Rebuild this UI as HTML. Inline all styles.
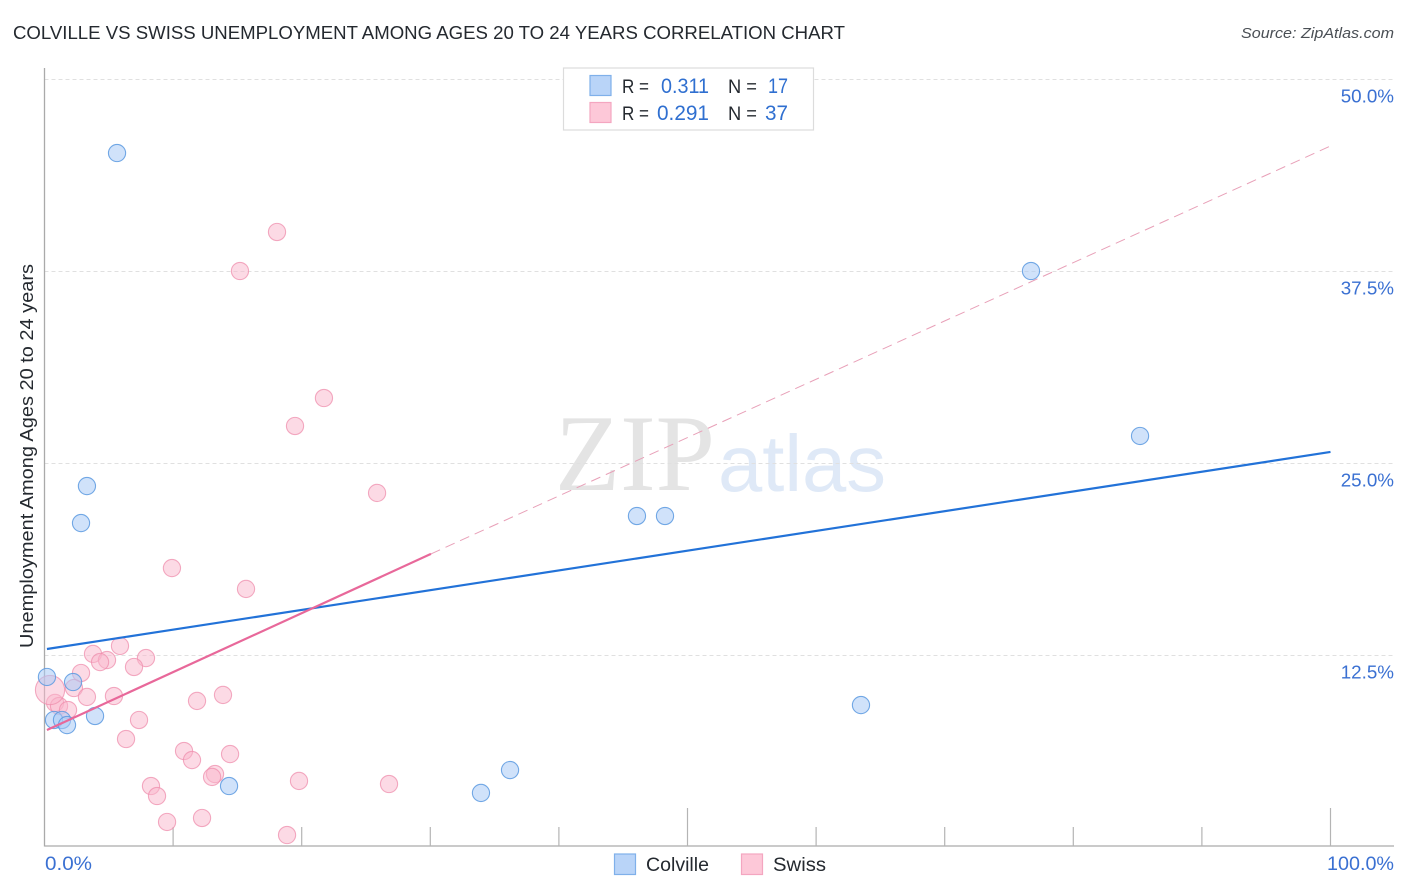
<!DOCTYPE html>
<html lang="en">
<head>
<meta charset="utf-8">
<title>Colville vs Swiss Unemployment Among Ages 20 to 24 Years Correlation Chart</title>
<style>
html,body{margin:0;padding:0;background:#fff;width:1406px;height:892px;overflow:hidden}
svg{display:block}
text{font-family:"Liberation Sans",sans-serif}
</style>
</head>
<body>
<svg id="chart" width="1406" height="892" viewBox="0 0 1406 892" xmlns="http://www.w3.org/2000/svg">
  <rect x="0" y="0" width="1406" height="892" fill="#fff"/>
  <text x="13" y="39" font-size="18.5" fill="#24292f" textLength="832" lengthAdjust="spacingAndGlyphs">COLVILLE VS SWISS UNEMPLOYMENT AMONG AGES 20 TO 24 YEARS CORRELATION CHART</text>
  <text x="1394" y="38" font-size="15" font-style="italic" fill="#4a4f55" text-anchor="end" textLength="153" lengthAdjust="spacingAndGlyphs">Source: ZipAtlas.com</text>
  <g>
    <text x="555" y="490" style="font-family:'Liberation Serif',serif" font-size="109" fill="#e4e4e4" textLength="160" lengthAdjust="spacingAndGlyphs">ZIP</text>
    <text x="718" y="491" font-size="80" fill="#dfe9f7" textLength="168" lengthAdjust="spacingAndGlyphs">atlas</text>
  </g>
  <g id="grid"></g>
  <g id="axes"></g>
  <g id="ticks"></g>
  <g id="ylabels"></g>
  <g id="xlabels"></g>
  <text transform="translate(33,456) rotate(-90)" font-size="18" fill="#24292f" text-anchor="middle" textLength="384" lengthAdjust="spacingAndGlyphs">Unemployment Among Ages 20 to 24 years</text>
  <g id="points-swiss"></g>
  <g id="points-colville"></g>
  <g id="trends"></g>
  <g>
    <rect x="563.5" y="68" width="250" height="62" fill="#fff" stroke="#dcdcdc" stroke-width="1.2"/>
    <rect x="590" y="75.5" width="21" height="20" fill="#b9d4f8" stroke="#7fb0ea" stroke-width="1.2"/>
    <rect x="590" y="102.5" width="21" height="20" fill="#fdc8d8" stroke="#f4a6c0" stroke-width="1.2"/>
    <text x="622" y="93" font-size="19" fill="#24292f" textLength="27" lengthAdjust="spacingAndGlyphs">R =</text>
    <text x="661" y="93" font-size="21" fill="#2f6fd0" textLength="48" lengthAdjust="spacingAndGlyphs">0.311</text>
    <text x="728" y="93" font-size="19" fill="#24292f" textLength="29" lengthAdjust="spacingAndGlyphs">N =</text>
    <text x="768" y="93" font-size="21" fill="#2f6fd0" textLength="20" lengthAdjust="spacingAndGlyphs">17</text>
    <text x="622" y="120" font-size="19" fill="#24292f" textLength="27" lengthAdjust="spacingAndGlyphs">R =</text>
    <text x="657" y="120" font-size="21" fill="#2f6fd0" textLength="52" lengthAdjust="spacingAndGlyphs">0.291</text>
    <text x="728" y="120" font-size="19" fill="#24292f" textLength="29" lengthAdjust="spacingAndGlyphs">N =</text>
    <text x="765" y="120" font-size="21" fill="#2f6fd0" textLength="23" lengthAdjust="spacingAndGlyphs">37</text>
  </g>
  <g>
    <rect x="614.5" y="854" width="21" height="20.5" fill="#b9d4f8" stroke="#7fb0ea" stroke-width="1.2"/>
    <text x="646" y="871" font-size="19" fill="#24292f" textLength="63" lengthAdjust="spacingAndGlyphs">Colville</text>
    <rect x="741.5" y="854" width="21" height="20.5" fill="#fdc8d8" stroke="#f4a6c0" stroke-width="1.2"/>
    <text x="773" y="871" font-size="19" fill="#24292f" textLength="53" lengthAdjust="spacingAndGlyphs">Swiss</text>
  </g>
</svg>
<script>
// Chart data (values in percent)
const yTickValues = [12.5, 25, 37.5, 50];
const yTickLabels = ["12.5%", "25.0%", "37.5%", "50.0%"];
const xTickValues = [10, 20, 30, 40, 50, 60, 70, 80, 90, 100];
const xTickMajor = [50, 100];
const xEndValues = [0, 100];
const xEndLabels = ["0.0%", "100.0%"];

const colvilleX = [5.64, 76.71, 85.19, 3.30, 2.84, 46.07, 48.25, 63.49, 0.19, 2.22, 3.93, 0.74, 1.36, 1.75, 36.2, 14.35, 33.94];
const colvilleY = [45.18, 37.5, 26.76, 23.50, 21.09, 21.55, 21.55, 9.24, 11.07, 10.74, 8.53, 8.27, 8.27, 7.94, 5.01, 3.97, 3.52];

const swissX = [18.08, 15.2, 21.73, 19.48, 25.86, 9.91, 15.67, 5.87, 3.77, 4.86, 4.32, 7.89, 6.96, 2.84, 2.29, 3.3, 5.4, 11.86, 13.88, 0.82, 1.13, 1.83, 7.35, 6.34, 10.85, 11.47, 14.43, 13.26, 13.03, 19.79, 26.79, 8.28, 8.75, 9.53, 12.25, 18.86, 0.43];
const swissY = [40.04, 37.5, 29.23, 27.41, 23.05, 18.16, 16.8, 13.09, 12.57, 12.17, 12.04, 12.3, 11.72, 11.33, 10.35, 9.77, 9.83, 9.51, 9.9, 9.38, 9.18, 8.92, 8.27, 7.03, 6.25, 5.66, 6.05, 4.75, 4.56, 4.3, 4.1, 3.97, 3.32, 1.63, 1.89, 0.78, 10.22];
const swissWeight = [1, 1, 1, 1, 1, 1, 1, 1, 1, 1, 1, 1, 1, 1, 1, 1, 1, 1, 1, 1, 1, 1, 1, 1, 1, 1, 1, 1, 1, 1, 1, 1, 1, 1, 1, 1, 1.7];

const colvilleTrendX = [0.19, 100];
const colvilleTrendY = [12.89, 25.72];
const swissTrendX = [0.19, 30.05];
const swissTrendY = [7.62, 19.08];
const swissDashX = [30.05, 100];
const swissDashY = [19.08, 45.64];

// Axis functions
function sx(v) { return 44.5 + v * 12.86; }
function sy(v) { return 847 - v * 15.36; }

const NS = "http://www.w3.org/2000/svg";
function make(tag, parent, props, txt) {
  const el = document.createElementNS(NS, tag);
  for (const k in props) el.setAttribute(k, props[k]);
  if (txt !== undefined) el.textContent = txt;
  parent.appendChild(el);
  return el;
}
const LEFT = 44.5, RIGHT = 1394, BOTTOM = 846, TOP = 68;

const gridG = document.getElementById("grid");
yTickValues.forEach(function (v) {
  const el = make("line", gridG, { x1: LEFT, x2: RIGHT, y1: sy(v) + 0.5, y2: sy(v) + 0.5, stroke: "#e0e0e0", "stroke-width": 1, "stroke-dasharray": "4 3" });
  
  
});

const axesG = document.getElementById("axes");
const yAxis = make("line", axesG, { x1: LEFT, x2: LEFT, y1: TOP, y2: BOTTOM + 0.5, stroke: "#aaa", "stroke-width": 1.3 });


const xAxis = make("line", axesG, { x1: LEFT, x2: RIGHT, y1: BOTTOM, y2: BOTTOM, stroke: "#aaa", "stroke-width": 1.3 });



const ticksG = document.getElementById("ticks");
xTickValues.forEach(function (v) {
  const top = xTickMajor.indexOf(v) >= 0 ? 808 : 827;
  const el = make("line", ticksG, { x1: sx(v), x2: sx(v), y1: top, y2: BOTTOM, stroke: "#b4b4b4", "stroke-width": 1.2 });
  
  
});

const yLabelG = document.getElementById("ylabels");
yTickValues.forEach(function (v, i) {
  const el = make("text", yLabelG, { x: 1394, y: sy(v) + 23.6, "font-size": 18.8, fill: "#3a70d2", "text-anchor": "end" }, yTickLabels[i]);
  
  
});

const xLabelG = document.getElementById("xlabels");
xEndValues.forEach(function (v, i) {
  const props = i === 0
    ? { x: sx(v) + 0.5, y: 870, "font-size": 19, fill: "#3a70d2", textLength: 47, lengthAdjust: "spacingAndGlyphs" }
    : { x: 1394, y: 870, "font-size": 19, fill: "#3a70d2", "text-anchor": "end", textLength: 67, lengthAdjust: "spacingAndGlyphs" };
  const el = make("text", xLabelG, props, xEndLabels[i]);
  
  
});

const swissG = document.getElementById("points-swiss");
swissX.forEach(function (v, i) {
  const el = make("circle", swissG, { cx: sx(v), cy: sy(swissY[i]), r: 8.6 * swissWeight[i], fill: "#f9b6cb", "fill-opacity": 0.5, stroke: "#ef8fae", "stroke-opacity": 0.75, "stroke-width": 1.1 });
  
  
});

const colvilleG = document.getElementById("points-colville");
colvilleX.forEach(function (v, i) {
  const el = make("circle", colvilleG, { cx: sx(v), cy: sy(colvilleY[i]), r: 8.6, fill: "#a9cbf5", "fill-opacity": 0.55, stroke: "#5c9ae0", "stroke-opacity": 0.85, "stroke-width": 1.1 });
  
  
});

const trendG = document.getElementById("trends");
const dashLine = make("line", trendG, { x1: sx(swissDashX[0]), y1: sy(swissDashY[0]), x2: sx(swissDashX[1]), y2: sy(swissDashY[1]), stroke: "#e8a0b8", "stroke-width": 1, "stroke-dasharray": "10 6" });


const blueLine = make("line", trendG, { x1: sx(colvilleTrendX[0]), y1: sy(colvilleTrendY[0]), x2: sx(colvilleTrendX[1]), y2: sy(colvilleTrendY[1]), stroke: "#2272d8", "stroke-width": 2.2 });


const pinkLine = make("line", trendG, { x1: sx(swissTrendX[0]), y1: sy(swissTrendY[0]), x2: sx(swissTrendX[1]), y2: sy(swissTrendY[1]), stroke: "#e8689a", "stroke-width": 2.2 });


</script>
</body>
</html>
